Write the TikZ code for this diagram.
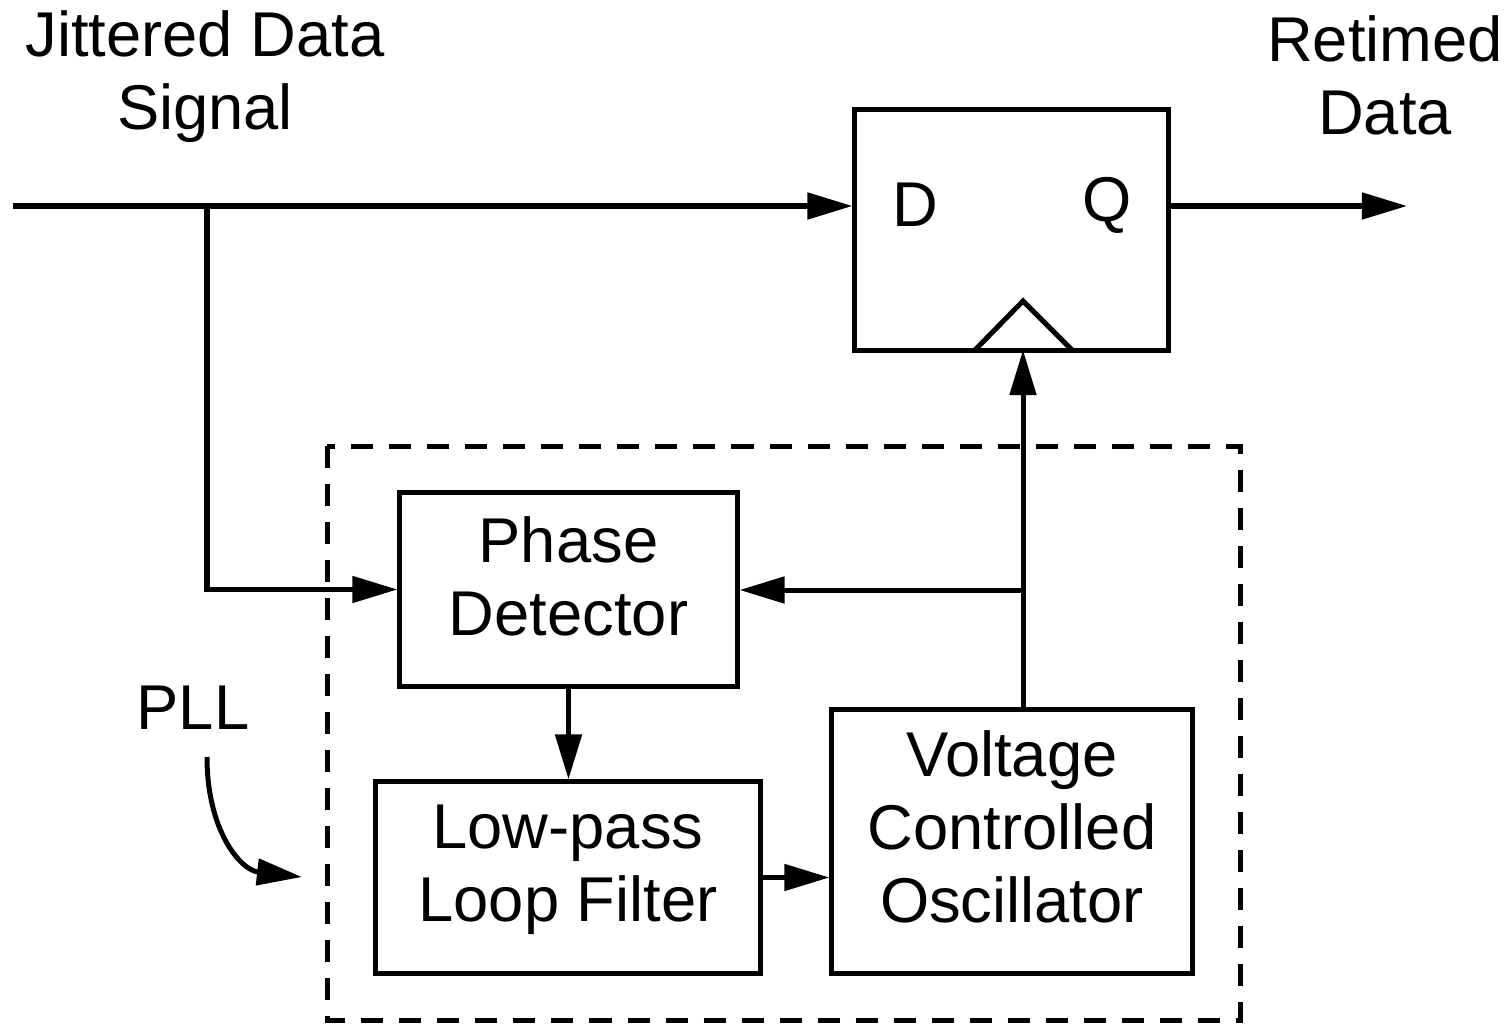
\documentclass[tikz,border=0pt]{standalone}
\usepackage{fontspec}
\setmainfont{Liberation Sans}
\usetikzlibrary{arrows.meta}
\begin{document}
\begin{tikzpicture}[x=0.01cm,y=-0.01cm,
  line width=0.05cm,
  every node/.style={font=\fontsize{18}{20.7}\selectfont},
  blk/.style={draw,rectangle,inner sep=0pt},
  txt/.style={align=center,inner sep=0pt},
  arr/.style={-{Triangle[length=0.45cm,width=0.26cm]}},
  plldash/.style={dash pattern=on 0.22cm off 0.16cm}]
\useasboundingbox (0,0) rectangle (1511,1024);

% dashed PLL boundary
\draw[plldash] (327,446) rectangle (1240,1020);

% blocks
\node[blk,minimum width=3.13cm,minimum height=2.40cm] (dff) at (1011.5,230) {};
\node (dlab) at (915,205) {D};
\node (qlab) at (1107,205) {Q};
\node[blk,minimum width=3.37cm,minimum height=1.93cm] (pd) at (568.5,589.5) {};
\node[txt] (pdt) at (568.5,576) {Phase\\Detector};
\node[blk,minimum width=3.84cm,minimum height=1.91cm] (lpf) at (568,877.5) {};
\node[txt] (lpft) at (568,870) {Low-pass\\Loop Filter};
\node[blk,minimum width=3.60cm,minimum height=2.63cm] (vco) at (1012,841.5) {};
\node[txt] (vcot) at (1012,827) {Voltage\\Controlled\\Oscillator};

% labels
\node[txt] (inlab) at (205,77) {Jittered Data\\Signal};
\node[txt] (outlab) at (1385,75) {Retimed\\Data};
\node (plllab) at (193,708) {PLL};

% coordinates
\coordinate (in) at (13,206);
\coordinate (br1) at (207,206);
\coordinate (out) at (1407,206);
\coordinate (clk) at (1023,350);
\coordinate (br2) at (1023,590);
\coordinate (cs) at (207,757);
\coordinate (ce) at (302,877);

% clock triangle
\draw[line join=miter] (975,350) -- (1023,301) -- (1072,350);

% connectors
\draw[arr] (in) -- (in -| dff.west);
\draw[arr] (br1) |- (pd.west);
\draw[arr] (dff.east |- out) -- (out);
\draw[arr] (clk |- vco.north) -- (clk);
\draw[arr] (br2) -- (br2 -| pd.east);
\draw[arr] (pd.south) -- (pd.south |- lpf.north);
\draw[arr] (lpf.east) -- (lpf.east -| vco.west);
\draw[arr] (cs) .. controls (207,830) and (240,870) .. (ce);
\end{tikzpicture}
\end{document}
